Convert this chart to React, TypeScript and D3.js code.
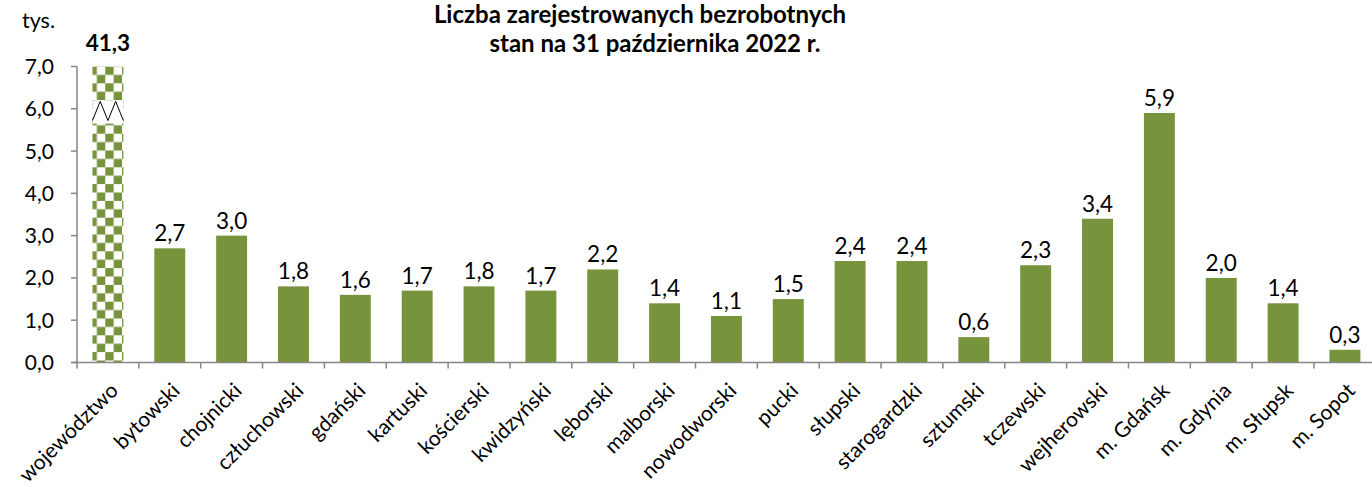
import React from "react";
import * as d3 from "d3";

const categories = [
  "województwo", "bytowski", "chojnicki", "człuchowski", "gdański", "kartuski",
  "kościerski", "kwidzyński", "lęborski", "malborski", "nowodworski", "pucki",
  "słupski", "starogardzki", "sztumski", "tczewski", "wejherowski", "m. Gdańsk",
  "m. Gdynia", "m. Słupsk", "m. Sopot",
];
const values = [41.3, 2.7, 3.0, 1.8, 1.6, 1.7, 1.8, 1.7, 2.2, 1.4, 1.1, 1.5, 2.4, 2.4, 0.6, 2.3, 3.4, 5.9, 2.0, 1.4, 0.3];
const yTicks = [0, 1, 2, 3, 4, 5, 6, 7];
const titleLines = ["Liczba zarejestrowanych bezrobotnych", "stan na 31 października 2022 r."];
const unitLabel = "tys.";
const breakAt = [5.65, 6.2];

const W = 1372;
const H = 487;
const FONT = "Lato, 'Open Sans', sans-serif";
const GREEN = "#77933C";
const AXIS = "#868686";

const fmt = (v: number) => v.toFixed(1).replace(".", ",");

export default function App() {
  const x0 = 77;
  const bw = 61.85;
  const x = d3.scaleBand<string>().domain(categories).range([x0, x0 + bw * categories.length]).paddingInner(0.5).paddingOuter(0.25);
  const y = d3.scaleLinear().domain([0, 7]).range([362.5, 66.5]);
  const step = x.step();
  const titleX = [640, 655];

  return (
    <svg width={W} height={H} style={{ position: "absolute", left: 0, top: 0, fontFamily: FONT }}>
      <defs>
        <pattern id="checker" patternUnits="userSpaceOnUse" width={16.8} height={16.8} x={x(categories[0])! - 4} y={y(7)}>
          <rect width={16.8} height={16.8} fill="#fff" />
          <rect width={8.4} height={8.4} fill={GREEN} />
          <rect x={8.4} y={8.4} width={8.4} height={8.4} fill={GREEN} />
        </pattern>
      </defs>
      <rect width={W} height={H} fill="#fff" />
      {titleLines.map((t, i) => (
        <text key={i} x={titleX[i]} y={23 + i * 29} textAnchor="middle" fontSize={24} fontWeight="bold" fill="#000">{t}</text>
      ))}
      <text x={22} y={28} fontSize={21.5} fill="#000">{unitLabel}</text>

      {/* y axis */}
      <line x1={x0} x2={x0} y1={y(7)} y2={y(0)} stroke={AXIS} strokeWidth={1.5} />
      {yTicks.map((t) => (
        <g key={t}>
          <line x1={x0 - 6} x2={x0} y1={y(t)} y2={y(t)} stroke={AXIS} strokeWidth={1.5} />
          <text x={54} y={y(t)} dy="0.36em" textAnchor="end" fontSize={21} fill="#000">{fmt(t)}</text>
        </g>
      ))}

      {/* bars */}
      {categories.map((c, i) => {
        const v = values[i];
        const bx = x(c)!;
        const w = x.bandwidth();
        if (i === 0) {
          const top = y(7);
          const b1 = y(breakAt[1]);
          const b0 = y(breakAt[0]);
          const zig = [
            [bx, b0 - 3],
            [bx + w * 0.25, b1 + 1],
            [bx + w * 0.5, b0 - 3],
            [bx + w * 0.75, b1 + 1],
            [bx + w, b0 - 3],
          ];
          return (
            <g key={c}>
              <rect x={bx} y={top} width={w} height={y(0) - top} fill="url(#checker)" />
              <rect x={bx} y={b1} width={w} height={b0 - b1} fill="#fff" />
              <path d={d3.line()(zig as [number, number][])!} fill="none" stroke="#000" strokeWidth={1} />
              <text x={bx + w / 2} y={top - 16} textAnchor="middle" fontSize={22.5} fontWeight="bold" fill="#000">{fmt(v)}</text>
            </g>
          );
        }
        return (
          <g key={c}>
            <rect x={bx} y={y(v)} width={w} height={y(0) - y(v)} fill={GREEN} />
            <text x={bx + w / 2} y={y(v) - 7} textAnchor="middle" fontSize={22.5} fill="#000">{fmt(v)}</text>
          </g>
        );
      })}

      {/* x axis */}
      <line x1={x0 - 6} x2={W} y1={y(0)} y2={y(0)} stroke={AXIS} strokeWidth={1.5} />
      {categories.map((c, i) => (
        <line key={c} x1={x0 + i * step} x2={x0 + i * step} y1={y(0)} y2={y(0) + 6} stroke={AXIS} strokeWidth={1.5} />
      ))}
      {categories.map((c) => {
        const cx = x(c)! + x.bandwidth() / 2 + 1;
        const cy = y(0) + 19;
        return (
          <text key={c} transform={`translate(${cx},${cy}) rotate(-45)`} textAnchor="end" dy="0.7em" fontSize={21} fill="#000">{c}</text>
        );
      })}
    </svg>
  );
}
